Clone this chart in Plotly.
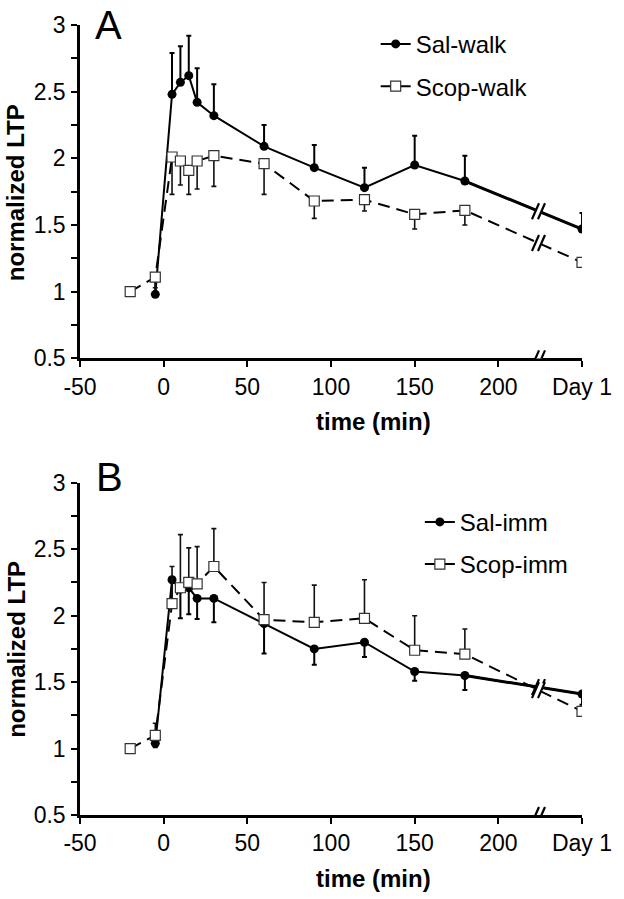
import numpy as np
import plotly.graph_objects as go

# ---------------- data ----------------
# time points (min); the last slot is the "Day 1" position on the broken axis
time_pts = [-20, -5, 5, 10, 15, 20, 30, 60, 90, 120, 150, 180, 250]
x_tickvals = [-50, 0, 50, 100, 150, 200, 250]
x_ticktext = ["-50", "0", "50", "100", "150", "200", "Day 1"]
y_tickvals = [0.5, 1, 1.5, 2, 2.5, 3]
y_ticktext = ["0.5", "1", "1.5", "2", "2.5", "3"]
break_x = 224

sal_walk = [None, 0.98, 2.48, 2.57, 2.62, 2.42, 2.32, 2.09, 1.93, 1.78, 1.95, 1.83, 1.47]
sal_walk_err = [0, 0.10, 0.31, 0.27, 0.30, 0.255, 0.235, 0.16, 0.17, 0.15, 0.22, 0.19, 0.12]
scop_walk = [1.00, 1.11, 2.01, 1.98, 1.91, 1.98, 2.02, 1.96, 1.68, 1.69, 1.58, 1.61, 1.22]
scop_walk_err = [0, 0.08, 0.28, 0.18, 0.18, 0.21, 0.23, 0.23, 0.13, 0.085, 0.11, 0.11, 0.02]

sal_imm = [None, 1.04, 2.27, 2.20, 2.21, 2.13, 2.13, 1.94, 1.75, 1.80, 1.58, 1.55, 1.41]
sal_imm_err = [0, 0.03, 0.20, 0.22, 0.20, 0.155, 0.18, 0.225, 0.12, 0.11, 0.07, 0.11, 0.08]
scop_imm = [1.00, 1.10, 2.09, 2.21, 2.25, 2.24, 2.37, 1.97, 1.95, 1.98, 1.74, 1.71, 1.28]
scop_imm_err = [0, 0.09, 0.28, 0.40, 0.26, 0.28, 0.285, 0.28, 0.28, 0.29, 0.26, 0.19, 0.02]

FONT = "Liberation Sans, Arial, sans-serif"
BLACK = "#000000"
SQ_EDGE = "#333333"

fig = go.Figure()


def add_series(name, y, err, xa, ya, legend, filled, err_up):
    zeros = [0] * len(err)
    if filled:
        marker = dict(symbol="circle", size=9, color=BLACK, line=dict(width=0))
        line = dict(color=BLACK, width=2)
        ebar_w, ebar_c = 2, BLACK
    else:
        marker = dict(symbol="square", size=10, color="white", line=dict(width=1.2, color=SQ_EDGE))
        line = dict(color=BLACK, width=2, dash="12px,7px")
        ebar_w, ebar_c = 1.6, "#111111"
    fig.add_trace(go.Scatter(
        x=time_pts, y=y, mode="lines+markers", name=name,
        xaxis=xa, yaxis=ya, legend=legend, legendgroup=name,
        marker=marker, line=line, connectgaps=False,
        error_y=dict(type="data", symmetric=False,
                     array=err if err_up else zeros,
                     arrayminus=zeros if err_up else err,
                     thickness=ebar_w, width=2.5, color=ebar_c),
    ))


def add_thick_tail(y, xa, ya):
    fig.add_trace(go.Scatter(
        x=time_pts[-2:], y=y[-2:], mode="lines", xaxis=xa, yaxis=ya,
        line=dict(color=BLACK, width=3), showlegend=False, hoverinfo="skip"))


# panel A
add_series("Sal-walk", sal_walk, sal_walk_err, "x", "y", "legend", True, True)
add_thick_tail(sal_walk, "x", "y")
add_series("Scop-walk", scop_walk, scop_walk_err, "x", "y", "legend", False, False)
# panel B
add_series("Sal-imm", sal_imm, sal_imm_err, "x2", "y2", "legend2", True, False)
add_thick_tail(sal_imm, "x2", "y2")
add_series("Scop-imm", scop_imm, scop_imm_err, "x2", "y2", "legend2", False, True)

# ------------- break marks -------------
shapes = []


def break_mark(xref, yref, yval, slash_len=8):
    # white gap + two slashes, sized in pixels around the anchor
    shapes.append(dict(type="path", xref=xref, yref=yref, xsizemode="pixel", ysizemode="pixel",
                       xanchor=break_x, yanchor=yval,
                       path="M -6,-7 L 1,7 L 7,7 L 0,-7 Z",
                       fillcolor="white", line=dict(width=0), layer="above"))
    for dx in (-3, 3):
        shapes.append(dict(type="line", xref=xref, yref=yref, xsizemode="pixel", ysizemode="pixel",
                           xanchor=break_x, yanchor=yval,
                           x0=dx - 3.5, y0=-slash_len, x1=dx + 3.5, y1=slash_len,
                           line=dict(color=BLACK, width=2.2), layer="above"))


for series, xr, yr in [(sal_walk, "x", "y"), (scop_walk, "x", "y"),
                       (sal_imm, "x2", "y2"), (scop_imm, "x2", "y2")]:
    yb = float(np.interp(break_x, time_pts[-2:], series[-2:]))
    break_mark(xr, yr, yb)
break_mark("x", "y", 0.5)
break_mark("x2", "y2", 0.5)

# ------------- layout -------------
axis_common_x = dict(range=[-50, 250], tickvals=x_tickvals, ticktext=x_ticktext,
                     showline=True, linecolor=BLACK, linewidth=2.5, ticks="outside",
                     ticklen=6, tickwidth=2, tickcolor=BLACK, showgrid=False, zeroline=False,
                     tickfont=dict(family=FONT, size=23, color=BLACK), ticklabelstandoff=0)
axis_common_y = dict(range=[0.5, 3], tickvals=y_tickvals, ticktext=y_ticktext,
                     showline=True, linecolor=BLACK, linewidth=2.5, ticks="outside",
                     ticklen=6, tickwidth=2, tickcolor=BLACK, showgrid=False, zeroline=False,
                     minor=dict(dtick=0.25, tick0=0.5, ticks="outside", ticklen=6, tickwidth=2,
                                tickcolor=BLACK, showgrid=False),
                     tickfont=dict(family=FONT, size=23, color=BLACK), ticklabelstandoff=1)

yA = [0.578, 1.0]
yB = [0.0, 0.4205]

fig.update_layout(
    width=624, height=899,
    margin=dict(l=80, r=40, t=16, b=84),
    paper_bgcolor="white", plot_bgcolor="white",
    font=dict(family=FONT, color=BLACK),
    xaxis=dict(domain=[0, 1], anchor="y", **axis_common_x),
    yaxis=dict(domain=yA, anchor="x", **axis_common_y),
    xaxis2=dict(domain=[0, 1], anchor="y2", **axis_common_x),
    yaxis2=dict(domain=yB, anchor="x2", **axis_common_y),
    legend=dict(x=0.589, y=1.004, xanchor="left", yanchor="top", bgcolor="rgba(0,0,0,0)",
                font=dict(family=FONT, size=24, color=BLACK), traceorder="grouped",
                tracegroupgap=8, itemwidth=30),
    legend2=dict(x=0.677, y=0.399, xanchor="left", yanchor="top", bgcolor="rgba(0,0,0,0)",
                 font=dict(family=FONT, size=24, color=BLACK), traceorder="grouped",
                 tracegroupgap=8, itemwidth=30),
    shapes=shapes,
    annotations=[
        dict(text="A", x=0.026, y=1.03, xref="paper", yref="paper", xanchor="left", yanchor="top",
             showarrow=False, font=dict(family=FONT, size=40, color=BLACK)),
        dict(text="B", x=0.028, y=0.458, xref="paper", yref="paper", xanchor="left", yanchor="top",
             showarrow=False, font=dict(family=FONT, size=40, color=BLACK)),
        dict(text="<b>time (min)</b>", x=0.585, y=0.498, xref="paper", yref="paper",
             xanchor="center", yanchor="middle", showarrow=False,
             font=dict(family=FONT, size=24, color=BLACK)),
        dict(text="<b>time (min)</b>", x=0.585, y=-0.080, xref="paper", yref="paper",
             xanchor="center", yanchor="middle", showarrow=False,
             font=dict(family=FONT, size=24, color=BLACK)),
        dict(text="<b>normalized LTP</b>", x=-0.128, y=0.788, xref="paper", yref="paper",
             xanchor="center", yanchor="middle", textangle=-90, showarrow=False,
             font=dict(family=FONT, size=24, color=BLACK)),
        dict(text="<b>normalized LTP</b>", x=-0.128, y=0.21, xref="paper", yref="paper",
             xanchor="center", yanchor="middle", textangle=-90, showarrow=False,
             font=dict(family=FONT, size=24, color=BLACK)),
    ],
)

# remove the page's default 8px body margin so the figure sits at the window origin
fig.write_html("out.html", config={"displayModeBar": False},
               post_script="document.body.style.margin='0';")
